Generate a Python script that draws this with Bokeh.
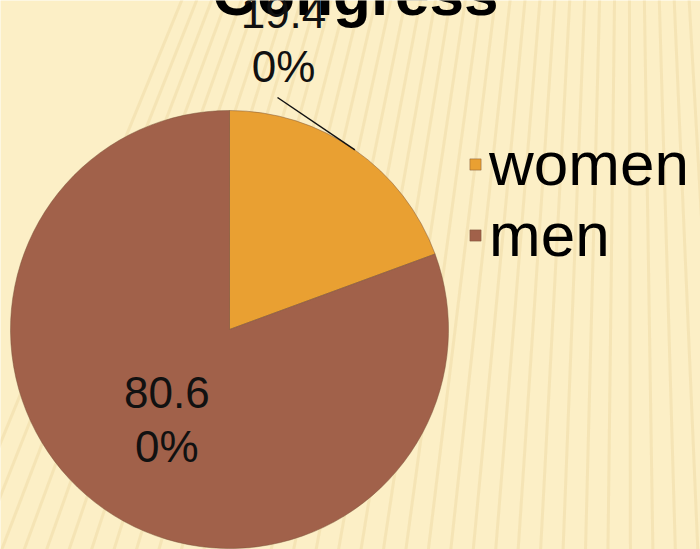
import numpy as np
from bokeh.plotting import figure
from bokeh.models import ColumnDataSource, Legend, LegendItem
from bokeh.core.properties import value
from bokeh.embed import file_html
from bokeh.resources import INLINE

# ---- data ----
categories = ["women", "men"]
shares = [19.40, 80.60]
colors = ["#E9A032", "#A1614A"]
title_text = "Congress"

# ---- layout constants ----
W, H = 700, 549
BG = "#FCEFC6"
cx, cy, R = 229, 220, 219
FONT = "Liberation Sans"

p = figure(width=W, height=H, x_range=(0, W), y_range=(0, H),
           output_backend="svg", toolbar_location=None, min_border=0)
p.axis.visible = False
p.grid.visible = False
p.outline_line_color = None
p.background_fill_color = BG
p.border_fill_color = BG

# faint background fan stripes (decoration)
ox, oy = 627, H + 1089
tx = np.arange(-60, 780, 23.0)
ang = np.arctan2(-40 - oy, tx - ox)
p.segment(x0=np.full(len(tx), ox), y0=np.full(len(tx), oy),
          x1=ox + 2600 * np.cos(ang), y1=oy + 2600 * np.sin(ang),
          line_color="#EBD59C", line_width=3, line_alpha=0.4)

# ---- pie ----
frac = np.array(shares) / sum(shares)
ends = np.pi / 2 - 2 * np.pi * np.concatenate([[0], np.cumsum(frac)[:-1]])
starts = ends - 2 * np.pi * frac
src = ColumnDataSource(dict(cat=categories, start=starts, end=ends, color=colors))
r = p.wedge(x=cx, y=cy, radius=R, start_angle="start", end_angle="end",
            fill_color="color", line_color="#7A5238", line_width=0.8,
            line_alpha=0.6, source=src)

# ---- title (partially cut at top) ----
p.text(x=[355], y=[556], text=[title_text], text_align="center",
       text_baseline="alphabetic", text_font=value(FONT),
       text_font_size="62px", text_font_style="bold", text_color="#000000")

# ---- data labels ----
labels = []
for s in shares:
    t = f"{s:.2f}%"
    labels.append(t[:4] + "\n" + t[4:])
mid = (starts + ends) / 2
# women label placed outside with leader line, men label inside
lx = [cx + 54, cx + 0.5 * R * np.cos(mid[1])]
ly = [cy + 290, cy + 0.5 * R * np.sin(mid[1])]
p.text(x=lx, y=ly, text=labels, text_align="center", text_baseline="middle",
       text_font=value(FONT), text_font_size="44px", text_color="#111111",
       text_line_height=1.1)
ex, ey = cx + R * np.cos(mid[0]), cy + R * np.sin(mid[0])
p.segment(x0=[lx[0] - 6], y0=[ly[0] - 58], x1=[ex], y1=[ey],
          line_color="#111111", line_width=1.5)

# ---- legend ----
legend = Legend(items=[LegendItem(label=c, renderers=[r], index=i)
                       for i, c in enumerate(categories)],
                location=(468, 279), orientation="vertical",
                label_text_font=FONT, label_text_font_size="62px",
                label_text_color="#000000", glyph_width=14, glyph_height=14,
                label_standoff=7, spacing=0, padding=0, margin=0,
                border_line_color=None, background_fill_alpha=0)
p.add_layout(legend, "center")

html = file_html(p, INLINE)
html = html.replace("<body>", f'<body style="margin:0;background:{BG};overflow:hidden">', 1)
open("out.html", "w").write(html)
